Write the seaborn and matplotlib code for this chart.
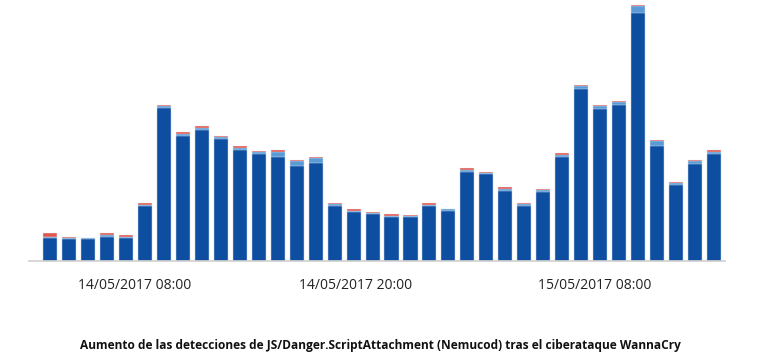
import matplotlib
matplotlib.use("Agg")
import matplotlib.pyplot as plt
import matplotlib.transforms as mtransforms
import pandas as pd
import seaborn as sns

# hourly buckets, 14/05/2017 03:00 -> 15/05/2017 14:00
hours = pd.date_range("2017-05-14 03:00", periods=36, freq="h")

# detections per hour (dark blue = main, light blue / red = minor variants)
main = [23, 22, 22, 24, 23, 55, 153, 125, 131, 122, 111, 107, 104, 95, 98, 55, 49, 47,
        44, 44, 55, 50, 89, 87, 70, 55, 69, 104, 172, 152, 156, 248, 115, 76, 97, 107]
variant_b = [1, 1, 1, 2, 1, 1, 2, 2, 2, 2, 2, 2, 5, 5, 5, 2, 1, 1,
             1, 1, 1, 2, 2, 1, 2, 2, 2, 2, 3, 3, 3, 7, 5, 2, 3, 2]
variant_c = [4, 1, 0, 2, 2, 2, 1, 2, 2, 1, 2, 1, 2, 1, 1, 1, 2, 1,
             2, 1, 2, 0, 2, 1, 2, 1, 1, 2, 1, 1, 1, 1, 1, 1, 1, 2]

tick_hours = ["2017-05-14 08:00", "2017-05-14 20:00", "2017-05-15 08:00"]
tick_labels = ["14/05/2017 08:00", "14/05/2017 20:00", "15/05/2017 08:00"]

df = pd.DataFrame({"hour": hours, "main": main, "b": variant_b, "c": variant_c})
df["pos"] = range(len(df))
df["lvl1"] = df["main"]
df["lvl2"] = df["main"] + df["b"]
df["lvl3"] = df["lvl2"] + df["c"]

sns.set_style("white")
plt.rcParams["font.family"] = ["Open Sans", "DejaVu Sans"]

fig = plt.figure(figsize=(7.64, 3.63), dpi=100)
ax = fig.add_axes([29 / 764, 1 - 261 / 363, (725 - 29) / 764, 256 / 363])

# stack by overdrawing cumulative totals, tallest first
for col, color in [("lvl3", "#e0574f"), ("lvl2", "#5b9bd5"), ("lvl1", "#0e4ea1")]:
    sns.barplot(data=df, x="pos", y=col, color=color, width=0.74, saturation=1,
                native_scale=True, ax=ax, edgecolor="#e4ecf6", linewidth=0.3)

ax.set_xlim(-1.11, 35.58)
ax.set_ylim(0, 256)
ax.set_xlabel("")
ax.set_ylabel("")
ax.set_yticks([])

pos_of = dict(zip(df["hour"], df["pos"]))
ax.set_xticks([pos_of[pd.Timestamp(t)] - 0.37 for t in tick_hours])
ax.set_xticklabels(tick_labels, fontsize=10, color="#222222")
ax.tick_params(axis="x", length=8, width=0.8, color="#d0d0d0", pad=4, direction="out")

# labels in the original sit slightly off their ticks
for lab, dx in zip(ax.get_xticklabels(), [-3, -10, 2]):
    lab.set_transform(lab.get_transform() + mtransforms.ScaledTranslation(dx / 100, 0, fig.dpi_scale_trans))

for side in ["left", "right", "top"]:
    ax.spines[side].set_visible(False)
ax.spines["bottom"].set_color("#d0d0d0")
ax.spines["bottom"].set_linewidth(1.2)

fig.text(0.5 - 2 / 764, 1 - 345 / 363, "Aumento de las detecciones de JS/Danger.ScriptAttachment (Nemucod) tras el ciberataque WannaCry",
         ha="center", va="center", fontsize=8.6, fontweight="bold", color="#111111")

fig.savefig("out.png", dpi=100)
